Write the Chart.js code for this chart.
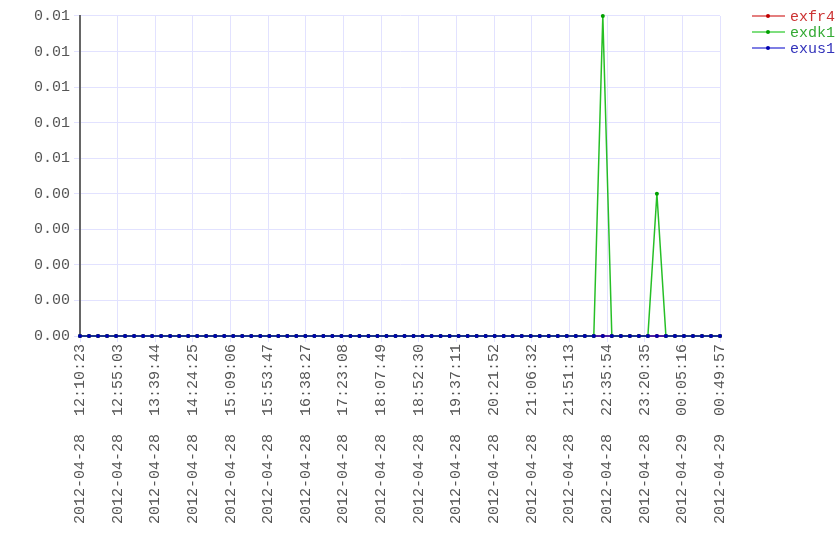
<!DOCTYPE html>
<html>
<head>
<meta charset="utf-8">
<script src="https://cdn.jsdelivr.net/npm/chart.js@4.4.1/dist/chart.umd.min.js"></script>
<style>
  html, body { margin: 0; padding: 0; background: #fff; }
  #wrap { width: 840px; height: 560px; }
</style>
</head>
<body>
<div id="wrap"><canvas id="chart"></canvas></div>
<script>
// tick labels on the time axis (18 of them, evenly spread over the 72 samples)
const timeLabels = [
  "2012-04-28  12:10:23", "2012-04-28  12:55:03", "2012-04-28  13:39:44",
  "2012-04-28  14:24:25", "2012-04-28  15:09:06", "2012-04-28  15:53:47",
  "2012-04-28  16:38:27", "2012-04-28  17:23:08", "2012-04-28  18:07:49",
  "2012-04-28  18:52:30", "2012-04-28  19:37:11", "2012-04-28  20:21:52",
  "2012-04-28  21:06:32", "2012-04-28  21:51:13", "2012-04-28  22:35:54",
  "2012-04-28  23:20:35", "2012-04-29  00:05:16", "2012-04-29  00:49:57"
];

const seriesNames = ["exfr4", "exdk1", "exus1"];

// 72 samples each
const exfr4 = [
  0,0,0,0,0,0,0,0,0,0, 0,0,0,0,0,0,0,0,0,0,
  0,0,0,0,0,0,0,0,0,0, 0,0,0,0,0,0,0,0,0,0,
  0,0,0,0,0,0,0,0,0,0, 0,0,0,0,0,0,0,0,0,0,
  0,0,0,0,0,0,0,0,0,0, 0,0
];
const exdk1 = [
  0,0,0,0,0,0,0,0,0,0, 0,0,0,0,0,0,0,0,0,0,
  0,0,0,0,0,0,0,0,0,0, 0,0,0,0,0,0,0,0,0,0,
  0,0,0,0,0,0,0,0,0,0, 0,0,0,0,0,0,0,0,0.009,0,
  0,0,0,0,0.004,0,0,0,0,0, 0,0
];
const exus1 = [
  0,0,0,0,0,0,0,0,0,0, 0,0,0,0,0,0,0,0,0,0,
  0,0,0,0,0,0,0,0,0,0, 0,0,0,0,0,0,0,0,0,0,
  0,0,0,0,0,0,0,0,0,0, 0,0,0,0,0,0,0,0,0,0,
  0,0,0,0,0,0,0,0,0,0, 0,0
];

const lineColors = ["rgba(200,0,0,0.6)", "rgba(0,180,0,0.85)", "rgba(0,0,190,0.65)"];
const lineWidths = [2, 1.5, 2];
const legendLines = ["rgba(210,40,40,0.6)", "rgba(40,200,40,0.6)", "rgba(40,40,210,0.6)"];
const dotColors = ["#c00000", "#00a000", "#0000b0"];
const textColors = ["#cc3333", "#33aa33", "#3333bb"];

const lastIdx = exfr4.length - 1;
const FONT = "'Liberation Mono', 'DejaVu Sans Mono', monospace";

function toPoints(arr) {
  return arr.map((v, i) => ({ x: i, y: v }));
}

// legend drawn by hand: line with a dot, coloured name
const sideLegend = {
  id: "sideLegend",
  afterDraw(chart) {
    const ctx = chart.ctx;
    ctx.save();
    ctx.font = "15px " + FONT;
    ctx.textBaseline = "middle";
    seriesNames.forEach((name, i) => {
      const y = 16 + i * 16;
      ctx.strokeStyle = legendLines[i];
      ctx.lineWidth = 2;
      ctx.beginPath();
      ctx.moveTo(752, y);
      ctx.lineTo(785, y);
      ctx.stroke();
      ctx.fillStyle = dotColors[i];
      ctx.beginPath();
      ctx.arc(768, y, 2, 0, Math.PI * 2);
      ctx.fill();
      ctx.fillStyle = textColors[i];
      ctx.fillText(name, 790, y + 1);
    });
    ctx.restore();
  }
};

new Chart(document.getElementById("chart"), {
  type: "line",
  data: {
    datasets: [exfr4, exdk1, exus1].map((arr, i) => ({
      label: seriesNames[i],
      data: toPoints(arr),
      borderColor: lineColors[i],
      backgroundColor: dotColors[i],
      pointBackgroundColor: dotColors[i],
      pointBorderWidth: 0,
      pointRadius: 2,
      borderWidth: lineWidths[i],
      tension: 0,
      fill: false,
      clip: false,
      order: 3 - i
    }))
  },
  options: {
    responsive: true,
    maintainAspectRatio: false,
    animation: false,
    layout: { padding: { top: 16, right: 120, left: 0, bottom: 0 } },
    plugins: {
      legend: { display: false },
      tooltip: { enabled: false }
    },
    scales: {
      x: {
        type: "linear",
        min: 0,
        max: lastIdx,
        afterBuildTicks(scale) {
          scale.ticks = timeLabels.map((t, i) => ({ value: i * lastIdx / (timeLabels.length - 1) }));
        },
        afterFit(scale) { scale.height = 224; },
        ticks: {
          autoSkip: false,
          maxRotation: 90,
          minRotation: 90,
          padding: 2,
          color: "#555",
          font: { family: FONT, size: 15 },
          callback(value, index) { return timeLabels[index]; }
        },
        grid: { color: "#e2e2ff", lineWidth: 1, tickLength: 6 },
        border: { display: false }
      },
      y: {
        min: 0,
        max: 0.009,
        afterBuildTicks(scale) {
          const t = [];
          for (let i = 0; i <= 9; i++) t.push({ value: i * 0.001 });
          scale.ticks = t;
        },
        afterFit(scale) { scale.width = 80; },
        ticks: {
          padding: 4,
          color: "#555",
          font: { family: FONT, size: 15 },
          callback(value) { return (Math.round(value * 100) / 100).toFixed(2); }
        },
        grid: { color: "#e2e2ff", lineWidth: 1, tickLength: 6 },
        border: { display: true, color: "#666", width: 2 }
      }
    }
  },
  plugins: [sideLegend]
});
</script>
</body>
</html>
